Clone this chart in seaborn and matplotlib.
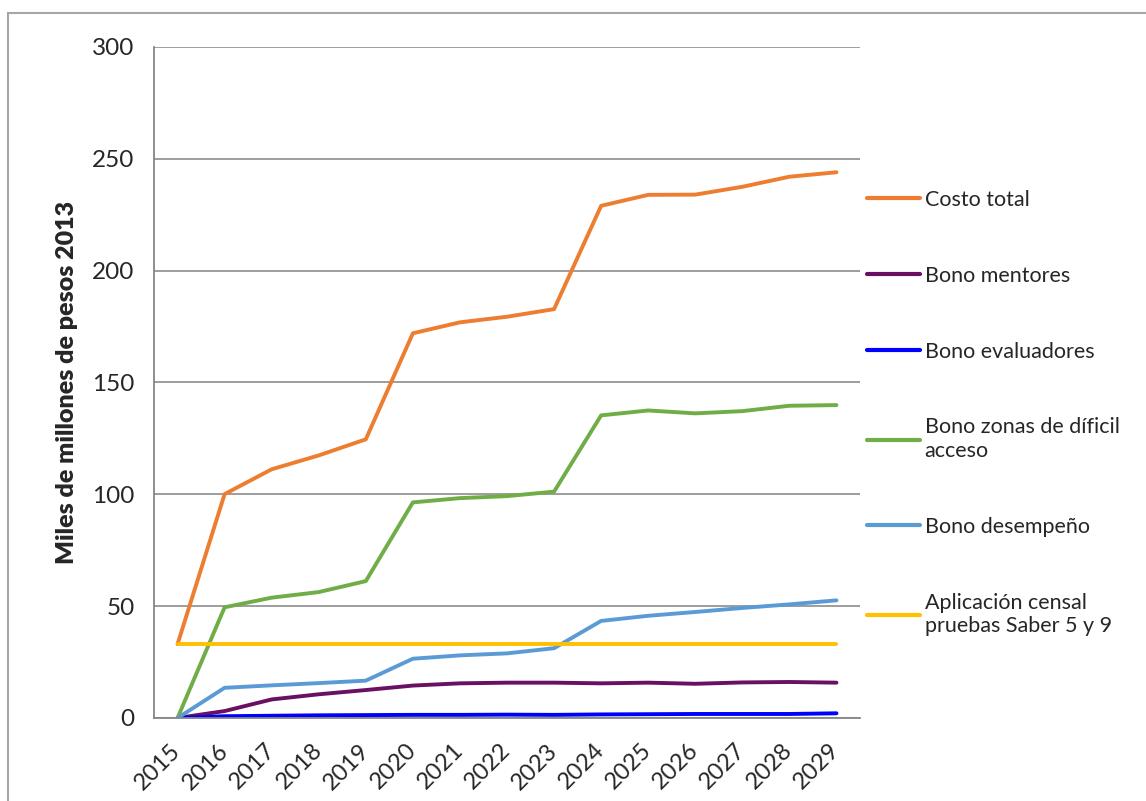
import numpy as np
import pandas as pd
import matplotlib
matplotlib.use('Agg')
import matplotlib.pyplot as plt
import matplotlib.patches as mpatches
import seaborn as sns

# años y series (miles de millones de pesos 2013)
years = list(range(2015, 2030))
costo_total = [33.0, 100.1, 111.2, 117.4, 124.6, 172.0, 176.9, 179.4, 182.8, 229.0, 233.9, 234.0, 237.5, 242.0, 244.0]
bono_mentores = [0.0, 3.1, 8.3, 10.6, 12.5, 14.5, 15.5, 15.8, 15.8, 15.5, 15.8, 15.3, 15.9, 16.1, 15.8]
bono_evaluadores = [0.0, 0.8, 1.0, 1.2, 1.3, 1.4, 1.4, 1.5, 1.4, 1.6, 1.7, 1.8, 1.8, 1.8, 2.1]
bono_zonas = [0.0, 49.5, 53.8, 56.3, 61.2, 96.4, 98.3, 99.2, 101.2, 135.3, 137.5, 136.2, 137.2, 139.6, 139.9]
bono_desempeno = [0.0, 13.5, 14.6, 15.6, 16.7, 26.5, 28.0, 28.9, 31.2, 43.4, 45.7, 47.4, 49.2, 50.8, 52.6]
aplicacion_censal = [33.0] * 15

series_names = ['Costo total', 'Bono mentores', 'Bono evaluadores',
                'Bono zonas de díficil\nacceso', 'Bono desempeño',
                'Aplicación censal\npruebas Saber 5 y 9']
series_vals = [costo_total, bono_mentores, bono_evaluadores,
               bono_zonas, bono_desempeno, aplicacion_censal]
colores = ['#ED7D31', '#6A0F62', '#0000FF', '#70AD47', '#5B9BD5', '#FFC000']

rows = []
for name, vals in zip(series_names, series_vals):
    for y, v in zip(years, vals):
        rows.append({'anio': y, 'valor': v, 'serie': name})
df = pd.DataFrame(rows)

sns.set_theme(style='white')
plt.rcParams['font.family'] = ['Lato', 'DejaVu Sans']

fig = plt.figure(figsize=(11.46, 8.01), dpi=100)
ax = fig.add_axes([154 / 1146, 1 - 718 / 801, (860 - 154) / 1146, (718 - 47) / 801])

sns.lineplot(data=df, x='anio', y='valor', hue='serie', hue_order=series_names,
             palette=colores, linewidth=2.8, ax=ax)

ax.set_xlim(2014.5, 2029.5)
ax.set_ylim(0, 300)
ax.set_yticks([0, 50, 100, 150, 200, 250, 300])
ax.tick_params(axis='y', labelsize=17.5, length=6, width=1.2, color='#868686', pad=8, direction='out')
ax.yaxis.grid(True, color='#8C8C8C', linewidth=1.2)
ax.set_axisbelow(True)

# ticks entre categorías, etiquetas centradas
ax.set_xticks(np.arange(2014.5, 2030.0, 1.0))
ax.set_xticklabels([])
ax.set_xticks(years, minor=True)
ax.set_xticklabels([str(y) for y in years], minor=True, rotation=45,
                   ha='right', va='center', rotation_mode='anchor', fontsize=17)
ax.tick_params(axis='x', which='major', length=7, width=1.2, color='#868686', direction='out')
ax.tick_params(axis='x', which='minor', length=0, pad=21)

for s in ['top', 'right']:
    ax.spines[s].set_visible(False)
for s in ['left', 'bottom']:
    ax.spines[s].set_color('#868686')
    ax.spines[s].set_linewidth(1.3)

ax.set_xlabel('')
ax.set_ylabel('Miles de millones de pesos 2013', fontsize=18, fontweight='heavy', labelpad=10)

leg = ax.legend(loc='upper left', bbox_to_anchor=(0.988, 0.81), frameon=False,
                fontsize=15.5, labelspacing=2.6, handlelength=2.5, handletextpad=0.2,
                borderaxespad=0.3)
for line in leg.get_lines():
    line.set_linewidth(3.0)

# borde del área del gráfico
fig.patches.append(mpatches.Rectangle((8 / 1146, -0.1), 1.2, 1 - 13 / 801 + 0.1,
                                      transform=fig.transFigure, fill=False,
                                      edgecolor='#A6A6A6', linewidth=1.5))

fig.savefig('out.png', dpi=100)
